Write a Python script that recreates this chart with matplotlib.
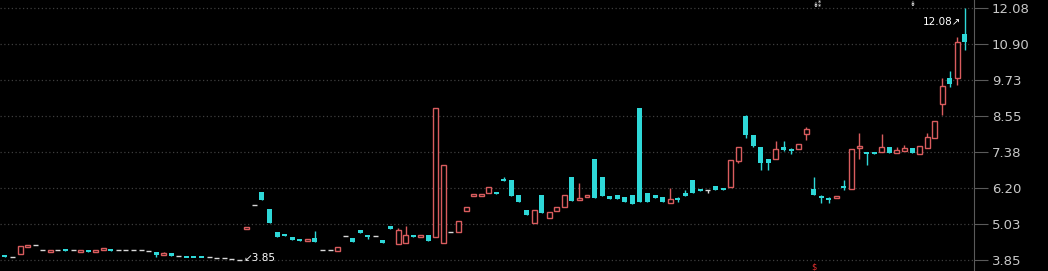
import numpy as np
import matplotlib.pyplot as plt

# daily OHLC (index = trading day)
opens = [4.02, 3.95, 4.05, 4.28, 4.34, 4.16, 4.12, 4.16, 4.21, 4.16,
         4.12, 4.18, 4.12, 4.19, 4.21, 4.19, 4.19, 4.19, 4.19, 4.15,
         4.12, 4.04, 4.08, 3.99, 3.96, 3.96, 3.96, 3.95, 3.92, 3.92,
         3.89, 3.85, 4.89, 5.65, 6.07, 5.52, 4.77, 4.67, 4.61, 4.54,
         4.48, 4.57, 4.18, 4.18, 4.15, 4.64, 4.57, 4.84, 4.67, 4.64,
         4.51, 4.97, 4.38, 4.41, 4.67, 4.63, 4.67, 4.61, 4.41, 4.77,
         4.77, 5.45, 5.97, 5.97, 6.04, 6.07, 6.50, 6.47, 5.98, 5.49,
         5.06, 5.98, 5.23, 5.45, 5.58, 6.56, 5.84, 5.91, 7.15, 6.56,
         5.94, 5.98, 5.91, 5.98, 8.82, 6.04, 5.98, 5.91, 5.72, 5.86,
         6.04, 6.47, 6.17, 6.14, 6.27, 6.20, 6.24, 7.09, 8.55, 7.93,
         7.54, 7.15, 7.15, 7.54, 7.48, 7.48, 7.97, 6.17, 5.92, 5.86,
         5.88, 6.25, 6.17, 7.53, 7.38, 7.38, 7.38, 7.54, 7.35, 7.41,
         7.51, 7.31, 7.51, 7.84, 8.95, 9.80, 9.80, 11.23]
closes = [3.95, 3.95, 4.31, 4.34, 4.34, 4.16, 4.18, 4.16, 4.15, 4.16,
          4.18, 4.12, 4.18, 4.20, 4.15, 4.19, 4.19, 4.19, 4.19, 4.15,
          4.02, 4.06, 3.99, 3.99, 3.95, 3.95, 3.95, 3.95, 3.92, 3.92,
          3.89, 3.85, 4.90, 5.65, 5.81, 5.06, 4.61, 4.64, 4.51, 4.48,
          4.54, 4.44, 4.18, 4.18, 4.28, 4.64, 4.44, 4.74, 4.62, 4.64,
          4.41, 4.87, 4.84, 4.67, 4.61, 4.64, 4.48, 8.82, 6.96, 4.77,
          5.13, 5.58, 5.98, 5.98, 6.24, 6.01, 6.43, 5.94, 5.75, 5.32,
          5.49, 5.39, 5.42, 5.58, 5.98, 5.78, 5.85, 5.98, 5.88, 5.94,
          5.85, 5.85, 5.75, 5.68, 5.75, 5.75, 5.88, 5.75, 5.85, 5.84,
          5.94, 6.04, 6.11, 6.14, 6.14, 6.14, 7.12, 7.54, 7.93, 7.58,
          7.02, 7.02, 7.48, 7.45, 7.40, 7.64, 8.13, 5.98, 5.90, 5.84,
          5.94, 6.22, 7.48, 7.55, 7.31, 7.31, 7.54, 7.35, 7.45, 7.51,
          7.35, 7.58, 7.87, 8.39, 9.53, 9.60, 10.97, 10.97]
highs = [4.02, 3.95, 4.31, 4.34, 4.34, 4.16, 4.18, 4.16, 4.21, 4.16,
         4.18, 4.18, 4.18, 4.20, 4.21, 4.19, 4.19, 4.19, 4.19, 4.15,
         4.12, 4.10, 4.08, 3.99, 3.96, 3.96, 3.96, 3.95, 3.92, 3.92,
         3.89, 3.85, 4.90, 5.65, 6.07, 5.52, 4.77, 4.67, 4.61, 4.54,
         4.54, 4.80, 4.18, 4.18, 4.28, 4.64, 4.57, 4.84, 4.67, 4.64,
         4.51, 4.97, 4.90, 4.97, 4.67, 4.64, 4.67, 8.82, 6.96, 4.77,
         5.13, 5.58, 5.98, 5.98, 6.24, 6.07, 6.56, 6.47, 5.98, 5.49,
         5.49, 5.98, 5.42, 5.58, 5.98, 6.56, 6.37, 5.98, 7.15, 6.56,
         5.94, 5.98, 5.91, 5.98, 8.82, 6.04, 5.98, 5.91, 6.20, 5.91,
         6.14, 6.47, 6.17, 6.14, 6.27, 6.20, 7.12, 7.54, 8.59, 7.93,
         7.54, 7.15, 7.74, 7.74, 7.51, 7.64, 8.20, 6.56, 5.98, 5.91,
         5.94, 6.47, 7.48, 8.00, 7.38, 7.38, 7.97, 7.54, 7.54, 7.60,
         7.51, 7.58, 8.00, 8.39, 9.80, 10.02, 11.13, 12.08]
lows = [3.95, 3.95, 4.05, 4.28, 4.34, 4.16, 4.12, 4.16, 4.15, 4.16,
        4.12, 4.12, 4.12, 4.19, 4.15, 4.19, 4.19, 4.19, 4.19, 4.15,
        3.95, 4.00, 3.99, 3.99, 3.95, 3.95, 3.95, 3.95, 3.92, 3.92,
        3.89, 3.85, 4.89, 5.65, 5.81, 5.06, 4.61, 4.64, 4.51, 4.48,
        4.48, 4.44, 4.18, 4.18, 4.15, 4.64, 4.44, 4.74, 4.54, 4.64,
        4.41, 4.87, 4.38, 4.41, 4.61, 4.63, 4.48, 4.61, 4.41, 4.77,
        4.77, 5.45, 5.97, 5.97, 6.04, 6.01, 6.43, 5.94, 5.75, 5.32,
        5.06, 5.39, 5.23, 5.45, 5.58, 5.78, 5.84, 5.91, 5.88, 5.94,
        5.85, 5.85, 5.75, 5.68, 5.75, 5.75, 5.88, 5.75, 5.72, 5.75,
        5.94, 6.04, 6.11, 6.04, 6.14, 6.14, 6.24, 7.02, 7.84, 7.54,
        6.79, 6.79, 7.15, 7.41, 7.31, 7.48, 7.77, 5.98, 5.72, 5.72,
        5.88, 6.14, 6.17, 7.15, 6.96, 7.31, 7.38, 7.35, 7.35, 7.41,
        7.35, 7.31, 7.51, 7.84, 8.59, 9.50, 9.57, 10.71]
yticks = [3.85, 5.03, 6.20, 7.38, 8.55, 9.73, 10.90, 12.08]

RED = '#d95c5e'
CYAN = '#2ed8d8'
FLAT = '#d8d8d8'
BG = '#000000'

o = np.array(opens); c = np.array(closes)
h = np.array(highs); l = np.array(lows)
x = np.arange(len(o))
up = c > o + 0.005
down = c < o - 0.005
flat = ~(up | down)

# keep tiny bodies visible (about 2 px)
minh = 0.06
top = np.maximum(o, c); bot = np.minimum(o, c)
ht = np.maximum(top - bot, minh)
mid = (top + bot) / 2
bot_d = np.where(top - bot < minh, mid - minh / 2, bot)

fig = plt.figure(figsize=(10.48, 2.71), dpi=100, facecolor=BG)
ax = fig.add_axes([0, 0, 974 / 1048, 1], facecolor=BG)

for t in yticks:
    ax.axhline(t, color='#3e3e3e', lw=0.9, ls=(0, (1, 2)), zorder=0)

w = 0.66
ax.vlines(x[up], l[up], h[up], color=RED, lw=1, zorder=2)
ax.vlines(x[down], l[down], h[down], color=CYAN, lw=1, zorder=2)
ax.vlines(x[flat], l[flat], h[flat], color=FLAT, lw=1, zorder=2)
ax.bar(x[up], ht[up], bottom=bot_d[up], width=w, facecolor=BG,
       edgecolor=RED, lw=1, zorder=3)
ax.bar(x[down], ht[down], bottom=bot_d[down], width=w, color=CYAN,
       lw=0, zorder=3)
ax.hlines(c[flat], x[flat] - w / 2, x[flat] + w / 2, color=FLAT, lw=1, zorder=3)

# max / min markers
imax = int(np.argmax(h)); imin = int(np.argmin(l))
ax.text(imax - 0.5, h[imax] - 0.45, '12.08\u2197', color='white', fontsize=7.5,
        ha='right', va='center')
ax.text(imin + 0.6, l[imin] + 0.05, '\u21993.85', color='white', fontsize=7.5,
        ha='left', va='center')
# small event marks
ax.text(107.5, 12.20, '\u21a1\u2051', color='white', fontsize=5, ha='center', va='center')
ax.text(120, 12.20, '\u21a1', color='white', fontsize=5, ha='center', va='center')
ax.text(107, 3.62, '$', color='#e03030', fontsize=6, ha='center', va='center')

ax.set_xlim(-0.66, 128.2)
ax.set_ylim(3.49, 12.34)
ax.yaxis.tick_right()
ax.set_yticks(yticks)
ax.set_yticklabels(['%.2f' % t for t in yticks])
ax.tick_params(axis='y', colors='#5a5a5a', length=10, width=0.8,
               labelcolor='#c8c8c8', labelsize=9.5, pad=3)
ax.set_xticks([])
for s in ['top', 'left', 'bottom']:
    ax.spines[s].set_visible(False)
ax.spines['right'].set_color('#5a5a5a')

fig.savefig('out.png', dpi=100, facecolor=BG)
